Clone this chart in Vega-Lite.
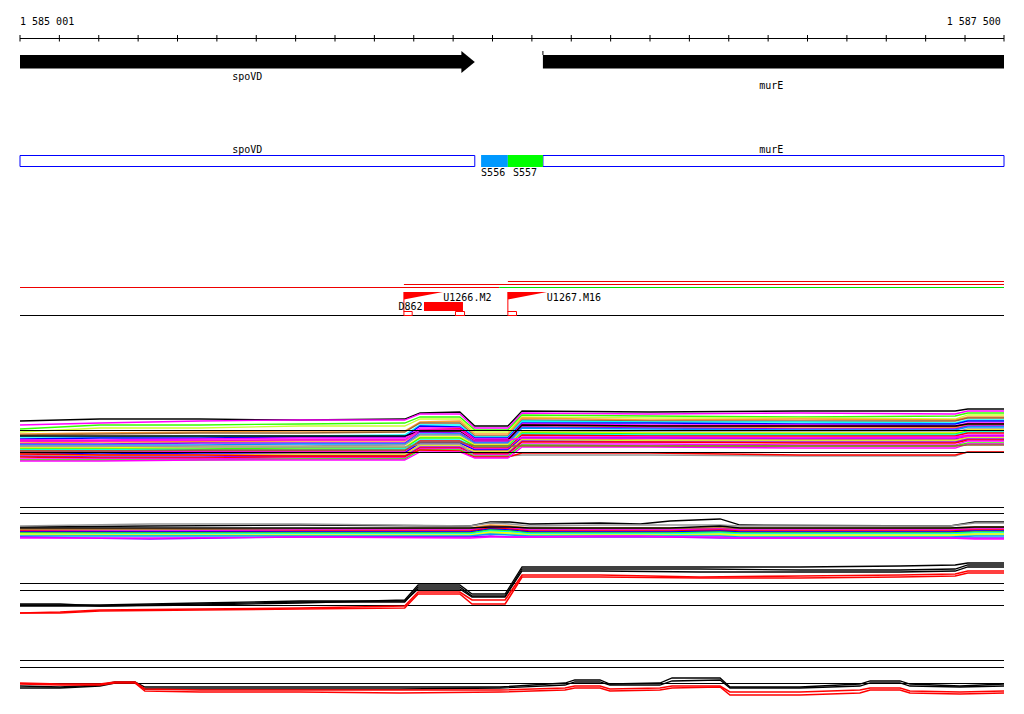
{
"$schema": "https://vega.github.io/schema/vega-lite/v6.json",
"width": 984, "height": 714,
"autosize": {"type": "none"},
"padding": {"left": 20, "right": 20, "top": 0, "bottom": 0},
"background": "white",
"config": {"view": {"stroke": null}, "axis": {"disable": true}, "text": {"font": "DejaVu Sans Mono", "fontSize": 10, "color": "black"}},
"encoding": {
  "x": {"field": "x", "type": "quantitative", "scale": {"domain": [1585001, 1587500], "nice": false, "zero": false}},
  "y": {"field": "y", "type": "quantitative", "scale": {"domain": [0, 714], "reverse": true, "nice": false, "zero": false}}
},
"layer": [
  {"data": {"values": [
    {"s":"a01","x":[1585001,1585204,1585458,1585712,1585978,1586017,1586118,1586156,1586240,1586276,1586601,1586982,1587376,1587408,1587500],"y":[421,419,419,420,419,413,412,426,426,411,412,411,411,409,409]},
    {"s":"a02","x":[1585001,1585204,1585458,1585712,1585978,1586017,1586118,1586156,1586240,1586276,1586601,1586982,1587376,1587408,1587500],"y":[425,423,421,420,420,414,414,428,428,413,414,413,414,411,411]},
    {"s":"a03","x":[1585001,1585204,1585458,1585712,1585978,1586017,1586118,1586156,1586240,1586276,1586601,1586982,1587376,1587408,1587500],"y":[429,425,425,424,423,417,417,430,430,415,416,417,416,413,413]},
    {"s":"a04","x":[1585001,1585204,1585458,1585712,1585978,1586017,1586118,1586156,1586240,1586276,1586601,1586982,1587376,1587408,1587500],"y":[432,428,428,426,426,419,419,432,432,417,418,418,419,415,415]},
    {"s":"a05","x":[1585001,1585204,1585458,1585712,1585978,1586017,1586118,1586156,1586240,1586276,1586601,1586982,1587376,1587408,1587500],"y":[434,433,432,431,431,422,421,434,434,418,420,419,420,417,417]},
    {"s":"a06","x":[1585001,1585204,1585458,1585712,1585978,1586017,1586118,1586156,1586240,1586276,1586601,1586982,1587376,1587408,1587500],"y":[435,434,433,433,432,423,423,436,436,420,421,421,421,418,418]},
    {"s":"a07","x":[1585001,1585204,1585458,1585712,1585978,1586017,1586118,1586156,1586240,1586276,1586601,1586982,1587376,1587408,1587500],"y":[437,437,436,436,435,425,425,437,437,421,422,422,423,420,420]},
    {"s":"a08","x":[1585001,1585204,1585458,1585712,1585978,1586017,1586118,1586156,1586240,1586276,1586601,1586982,1587376,1587408,1587500],"y":[439,438,438,437,437,426,427,438,438,423,423,424,424,421,421]},
    {"s":"a09","x":[1585001,1585204,1585458,1585712,1585978,1586017,1586118,1586156,1586240,1586276,1586601,1586982,1587376,1587408,1587500],"y":[440,440,439,438,438,428,428,439,439,424,425,425,426,423,423]},
    {"s":"a10","x":[1585001,1585204,1585458,1585712,1585978,1586017,1586118,1586156,1586240,1586276,1586601,1586982,1587376,1587408,1587500],"y":[441,441,441,440,440,430,429,440,440,425,426,426,427,424,424]},
    {"s":"a11","x":[1585001,1585204,1585458,1585712,1585978,1586017,1586118,1586156,1586240,1586276,1586601,1586982,1587376,1587408,1587500],"y":[443,442,442,441,441,431,431,441,441,426,427,428,428,425,425]},
    {"s":"a12","x":[1585001,1585204,1585458,1585712,1585978,1586017,1586118,1586156,1586240,1586276,1586601,1586982,1587376,1587408,1587500],"y":[444,444,443,443,443,432,433,442,442,427,428,429,429,426,426]},
    {"s":"a13","x":[1585001,1585204,1585458,1585712,1585978,1586017,1586118,1586156,1586240,1586276,1586601,1586982,1587376,1587408,1587500],"y":[445,445,445,444,444,434,434,443,443,428,429,430,430,427,427]},
    {"s":"a14","x":[1585001,1585204,1585458,1585712,1585978,1586017,1586118,1586156,1586240,1586276,1586601,1586982,1587376,1587408,1587500],"y":[447,447,446,446,445,435,435,444,444,431,432,432,432,429,429]},
    {"s":"a15","x":[1585001,1585204,1585458,1585712,1585978,1586017,1586118,1586156,1586240,1586276,1586601,1586982,1587376,1587408,1587500],"y":[448,448,447,447,447,437,437,445,445,432,433,433,433,430,430]},
    {"s":"a16","x":[1585001,1585204,1585458,1585712,1585978,1586017,1586118,1586156,1586240,1586276,1586601,1586982,1587376,1587408,1587500],"y":[449,449,449,448,448,438,438,446,446,433,434,434,434,431,431]},
    {"s":"a17","x":[1585001,1585204,1585458,1585712,1585978,1586017,1586118,1586156,1586240,1586276,1586601,1586982,1587376,1587408,1587500],"y":[450,450,450,450,449,440,440,447,447,434,435,435,435,432,432]},
    {"s":"a18","x":[1585001,1585204,1585458,1585712,1585978,1586017,1586118,1586156,1586240,1586276,1586601,1586982,1587376,1587408,1587500],"y":[451,451,451,451,451,441,441,448,448,435,436,436,436,433,433]},
    {"s":"a19","x":[1585001,1585204,1585458,1585712,1585978,1586017,1586118,1586156,1586240,1586276,1586601,1586982,1587376,1587408,1587500],"y":[452,452,452,452,452,442,442,449,449,437,437,438,437,435,435]},
    {"s":"a20","x":[1585001,1585204,1585458,1585712,1585978,1586017,1586118,1586156,1586240,1586276,1586601,1586982,1587376,1587408,1587500],"y":[453,454,453,453,453,443,443,450,450,438,438,439,439,436,436]},
    {"s":"a21","x":[1585001,1585204,1585458,1585712,1585978,1586017,1586118,1586156,1586240,1586276,1586601,1586982,1587376,1587408,1587500],"y":[454,455,455,454,454,445,445,451,451,439,440,440,440,437,437]},
    {"s":"a22","x":[1585001,1585204,1585458,1585712,1585978,1586017,1586118,1586156,1586240,1586276,1586601,1586982,1587376,1587408,1587500],"y":[455,456,456,455,455,446,446,452,452,440,441,441,441,438,438]},
    {"s":"a23","x":[1585001,1585204,1585458,1585712,1585978,1586017,1586118,1586156,1586240,1586276,1586601,1586982,1587376,1587408,1587500],"y":[456,457,457,456,456,447,447,453,453,441,442,442,442,439,439]},
    {"s":"a24","x":[1585001,1585204,1585458,1585712,1585978,1586017,1586118,1586156,1586240,1586276,1586601,1586982,1587376,1587408,1587500],"y":[457,458,458,457,457,448,448,454,454,442,442,443,443,440,440]},
    {"s":"a25","x":[1585001,1585204,1585458,1585712,1585978,1586017,1586118,1586156,1586240,1586276,1586601,1586982,1587376,1587408,1587500],"y":[459,459,459,458,458,449,449,455,455,444,444,445,445,441,441]},
    {"s":"a26","x":[1585001,1585204,1585458,1585712,1585978,1586017,1586118,1586156,1586240,1586276,1586601,1586982,1587376,1587408,1587500],"y":[460,460,460,459,459,450,450,456,456,445,446,446,446,443,443]},
    {"s":"a27","x":[1585001,1585204,1585458,1585712,1585978,1586017,1586118,1586156,1586240,1586276,1586601,1586982,1587376,1587408,1587500],"y":[446,446,447,447,447,444,444,456,456,455,455,456,456,452,452]},
    {"s":"a28","x":[1585001,1585204,1585458,1585712,1585978,1586017,1586118,1586156,1586240,1586276,1586601,1586982,1587376,1587408,1587500],"y":[454,455,455,456,456,450,451,457,457,453,453,455,455,452,452]},
    {"s":"a29","x":[1585001,1585204,1585458,1585712,1585978,1586017,1586118,1586156,1586240,1586276,1586601,1586982,1587376,1587408,1587500],"y":[436,436,436,436,436,431,431,440,440,425,426,426,426,424,424]},
    {"s":"a30","x":[1585001,1585204,1585458,1585712,1585978,1586017,1586118,1586156,1586240,1586276,1586601,1586982,1587376,1587408,1587500],"y":[461,461,460,460,460,452,452,458,458,447,447,448,448,444,444]},
    {"s":"a31","x":[1585001,1585204,1585458,1585712,1585978,1586017,1586118,1586156,1586240,1586276,1586601,1586982,1587376,1587408,1587500],"y":[451,451,450,450,450,442,442,446,446,446,446,446,446,445,445]},
    {"s":"a32","x":[1585001,1585204,1585458,1585712,1585978,1586017,1586118,1586156,1586240,1586276,1586601,1586982,1587376,1587408,1587500],"y":[441,441,440,440,440,430,430,440,440,438,438,438,438,436,436]},
    {"s":"b01","x":[1585001,1585331,1585712,1586144,1586195,1586245,1586296,1586474,1586576,1586652,1586779,1586830,1587363,1587426,1587500],"y":[527,526,525,526,522,522,524,523,524,521,519,525,526,522,522]},
    {"s":"b02","x":[1585001,1585331,1585712,1586144,1586195,1586245,1586296,1586474,1586576,1586652,1586779,1586830,1587363,1587426,1587500],"y":[526,524,524,526,523,524,526,525,525,525,525,526,526,523,523]},
    {"s":"b03","x":[1585001,1585331,1585712,1586144,1586195,1586245,1586296,1586474,1586576,1586652,1586779,1586830,1587363,1587426,1587500],"y":[529,529,529,528,525,526,528,528,528,528,528,528,528,527,527]},
    {"s":"b04","x":[1585001,1585331,1585712,1586144,1586195,1586245,1586296,1586474,1586576,1586652,1586779,1586830,1587363,1587426,1587500],"y":[530,530,529,529,526,527,529,529,529,529,528,529,529,528,528]},
    {"s":"b05","x":[1585001,1585331,1585712,1586144,1586195,1586245,1586296,1586474,1586576,1586652,1586779,1586830,1587363,1587426,1587500],"y":[531,531,530,530,527,528,530,530,530,530,529,530,530,529,529]},
    {"s":"b06","x":[1585001,1585331,1585712,1586144,1586195,1586245,1586296,1586474,1586576,1586652,1586779,1586830,1587363,1587426,1587500],"y":[531,532,531,531,528,529,531,531,531,531,530,531,531,530,530]},
    {"s":"b07","x":[1585001,1585331,1585712,1586144,1586195,1586245,1586296,1586474,1586576,1586652,1586779,1586830,1587363,1587426,1587500],"y":[532,532,532,532,529,530,532,532,532,532,531,532,532,531,531]},
    {"s":"b08","x":[1585001,1585331,1585712,1586144,1586195,1586245,1586296,1586474,1586576,1586652,1586779,1586830,1587363,1587426,1587500],"y":[533,533,533,533,530,531,533,533,533,533,532,533,533,532,532]},
    {"s":"b09","x":[1585001,1585331,1585712,1586144,1586195,1586245,1586296,1586474,1586576,1586652,1586779,1586830,1587363,1587426,1587500],"y":[534,534,534,534,531,532,534,534,534,534,533,534,534,533,533]},
    {"s":"b10","x":[1585001,1585331,1585712,1586144,1586195,1586245,1586296,1586474,1586576,1586652,1586779,1586830,1587363,1587426,1587500],"y":[534,535,535,535,532,533,535,535,535,535,534,535,535,534,534]},
    {"s":"b11","x":[1585001,1585331,1585712,1586144,1586195,1586245,1586296,1586474,1586576,1586652,1586779,1586830,1587363,1587426,1587500],"y":[535,535,536,536,533,534,535,535,535,535,535,536,536,535,535]},
    {"s":"b12","x":[1585001,1585331,1585712,1586144,1586195,1586245,1586296,1586474,1586576,1586652,1586779,1586830,1587363,1587426,1587500],"y":[536,536,536,536,534,535,536,536,536,536,536,537,537,536,536]},
    {"s":"b13","x":[1585001,1585331,1585712,1586144,1586195,1586245,1586296,1586474,1586576,1586652,1586779,1586830,1587363,1587426,1587500],"y":[537,539,537,537,536,537,537,537,537,537,538,538,538,538,538]},
    {"s":"b14","x":[1585001,1585331,1585712,1586144,1586195,1586245,1586296,1586474,1586576,1586652,1586779,1586830,1587363,1587426,1587500],"y":[538,538,537,538,537,537,537,536,536,537,537,538,538,539,539]},
    {"s":"b15","x":[1585001,1585331,1585712,1586144,1586195,1586245,1586296,1586474,1586576,1586652,1586779,1586830,1587363,1587426,1587500],"y":[528,528,528,528,527,527,528,528,528,528,526,528,528,527,527]}
  ]},
   "transform": [{"flatten": ["x", "y"]}],
   "mark": {"type": "line", "strokeWidth": 1.3},
   "encoding": {"stroke": {"field": "s", "type": "nominal", "legend": null,
     "scale": {"domain": ["a01","a02","a03","a04","a05","a06","a07","a08","a09","a10","a11","a12","a13","a14","a15","a16","a17","a18","a19","a20","a21","a22","a23","a24","a25","a26","a27","a28","a29","a30","a31","a32","b01","b02","b03","b04","b05","b06","b07","b08","b09","b10","b11","b12","b13","b14","b15"],
       "range": ["#000000","#ff00ff","#33ff00","#ccff33","#ff9933","#996633","#00ffff","#0000ff","#ff00ff","#ff0000","#ff9933","#9900ff","#0099ff","#999999","#ffff00","#33ff00","#00ffff","#ff0000","#ff00ff","#0000ff","#ff9933","#ccff33","#9900ff","#ff0000","#ff00ff","#33ff00","#999999","#ff0000","#000000","#ff00ff","#996633","#ff00ff","#000000","#999999","#ff9933","#996633","#ff00ff","#ff0000","#0000ff","#33ff00","#00ffff","#ffff00","#ccff33","#0099ff","#9900ff","#ff00ff","#000000"]}}}
  },
  {"data": {"values": [
    {"x":1585001,"x2":1587500,"y":38.5},
    {"x":1585001,"x2":1587500,"y":315.5},
    {"x":1585001,"x2":1587500,"y":430.5},
    {"x":1585001,"x2":1587500,"y":452.5},
    {"x":1585001,"x2":1587500,"y":507.5},
    {"x":1585001,"x2":1587500,"y":513.5},
    {"x":1585001,"x2":1587500,"y":583.5},
    {"x":1585001,"x2":1587500,"y":590.5},
    {"x":1585001,"x2":1587500,"y":605.5},
    {"x":1585001,"x2":1587500,"y":660.5},
    {"x":1585001,"x2":1587500,"y":667.5},
    {"x":1585001,"x2":1587500,"y":683.5}
  ]},
   "mark": {"type": "rule", "color": "black", "strokeWidth": 1},
   "encoding": {"x2": {"field": "x2"}}
  },
  {"data": {"values": [
    {"x":1585001,"y":35,"y2":41.5},{"x":1585101,"y":35,"y2":41.5},{"x":1585201,"y":35,"y2":41.5},{"x":1585301,"y":35,"y2":41.5},{"x":1585401,"y":35,"y2":41.5},
    {"x":1585501,"y":35,"y2":41.5},{"x":1585601,"y":35,"y2":41.5},{"x":1585701,"y":35,"y2":41.5},{"x":1585801,"y":35,"y2":41.5},{"x":1585901,"y":35,"y2":41.5},
    {"x":1586001,"y":35,"y2":41.5},{"x":1586101,"y":35,"y2":41.5},{"x":1586201,"y":35,"y2":41.5},{"x":1586301,"y":35,"y2":41.5},{"x":1586401,"y":35,"y2":41.5},
    {"x":1586501,"y":35,"y2":41.5},{"x":1586601,"y":35,"y2":41.5},{"x":1586701,"y":35,"y2":41.5},{"x":1586801,"y":35,"y2":41.5},{"x":1586901,"y":35,"y2":41.5},
    {"x":1587001,"y":35,"y2":41.5},{"x":1587101,"y":35,"y2":41.5},{"x":1587201,"y":35,"y2":41.5},{"x":1587301,"y":35,"y2":41.5},{"x":1587401,"y":35,"y2":41.5},
    {"x":1587500,"y":35,"y2":41.5}
  ]},
   "mark": {"type": "rule", "color": "black", "strokeWidth": 1},
   "encoding": {"y2": {"field": "y2"}}
  },
  {"data": {"values": [
    {"x":1585001,"x2":1586124,"y":55,"y2":68.5},
    {"x":1586329,"x2":1587500,"y":55,"y2":68.5}
  ]},
   "mark": {"type": "rect", "color": "black"},
   "encoding": {"x2": {"field": "x2"}, "y2": {"field": "y2"}}
  },
  {"data": {"values": [
    {"x":1586329,"y":51,"y2":55}
  ]},
   "mark": {"type": "rule", "color": "black", "strokeWidth": 1},
   "encoding": {"y2": {"field": "y2"}}
  },
  {"data": {"values": [
    {"x":1586122,"y":51,"y2":73},
    {"x":1586156,"y":62,"y2":62}
  ]},
   "mark": {"type": "area", "color": "black"},
   "encoding": {"y2": {"field": "y2"}}
  },
  {"data": {"values": [
    {"x":1585001,"x2":1586156,"y":155.5,"y2":166.5},
    {"x":1586329,"x2":1587500,"y":155.5,"y2":166.5}
  ]},
   "mark": {"type": "rect", "fill": "white", "stroke": "#0000ff", "strokeWidth": 1},
   "encoding": {"x2": {"field": "x2"}, "y2": {"field": "y2"}}
  },
  {"data": {"values": [
    {"f":"S556","x":1586172,"x2":1586240,"y":155,"y2":167},
    {"f":"S557","x":1586240,"x2":1586329,"y":155,"y2":167}
  ]},
   "mark": {"type": "rect"},
   "encoding": {"x2": {"field": "x2"}, "y2": {"field": "y2"},
     "fill": {"field": "f", "type": "nominal", "legend": null, "scale": {"domain": ["S556","S557"], "range": ["#0099ff","#00ff00"]}}}
  },
  {"data": {"values": [
    {"x":1585001,"x2":1586218,"y":287.5},
    {"x":1585976,"x2":1587500,"y":284.5},
    {"x":1586240,"x2":1587500,"y":281.5}
  ]},
   "mark": {"type": "rule", "color": "#ee0000", "strokeWidth": 1},
   "encoding": {"x2": {"field": "x2"}}
  },
  {"data": {"values": [
    {"x":1586218,"x2":1587500,"y":287.5}
  ]},
   "mark": {"type": "rule", "color": "#00dd00", "strokeWidth": 1},
   "encoding": {"x2": {"field": "x2"}}
  },
  {"data": {"values": [
    {"x":1585976,"y":292,"y2":312},
    {"x":1586240,"y":292,"y2":312}
  ]},
   "mark": {"type": "rule", "color": "red", "strokeWidth": 1},
   "encoding": {"y2": {"field": "y2"}}
  },
  {"data": {"values": [
    {"f":"a","x":1585976,"y":292,"y2":299.5},
    {"f":"a","x":1586075,"y":292,"y2":292},
    {"f":"b","x":1586240,"y":292,"y2":299.5},
    {"f":"b","x":1586339,"y":292,"y2":292}
  ]},
   "mark": {"type": "area", "color": "red"},
   "encoding": {"y2": {"field": "y2"}, "detail": {"field": "f"}}
  },
  {"data": {"values": [
    {"x":1586027,"x2":1586126,"y":302,"y2":311}
  ]},
   "mark": {"type": "rect", "color": "red"},
   "encoding": {"x2": {"field": "x2"}, "y2": {"field": "y2"}}
  },
  {"data": {"values": [
    {"x":1585976,"x2":1585997,"y":311.5,"y2":315.5},
    {"x":1586107,"x2":1586130,"y":311.5,"y2":315.5},
    {"x":1586240,"x2":1586262,"y":311.5,"y2":315.5}
  ]},
   "mark": {"type": "rect", "fill": "white", "stroke": "red", "strokeWidth": 1},
   "encoding": {"x2": {"field": "x2"}, "y2": {"field": "y2"}}
  },
  {"data": {"values": [
    {"s":"k1","x":[1585001,1585103,1585204,1585458,1585712,1585978,1586012,1586118,1586149,1586233,1586276,1586474,1586728,1586982,1587236,1587376,1587408,1587500],"y":[604,604,606,605,603,600,585,585,594,594,567,567,567,567,566,565,563,563]},
    {"s":"k2","x":[1585001,1585103,1585204,1585458,1585712,1585978,1586012,1586118,1586149,1586233,1586276,1586474,1586728,1586982,1587236,1587376,1587408,1587500],"y":[606,606,606,604,602,602,587,587,596,596,569,569,569,570,570,569,565,565]},
    {"s":"k3","x":[1585001,1585103,1585204,1585458,1585712,1585978,1586012,1586118,1586149,1586233,1586276,1586474,1586728,1586982,1587236,1587376,1587408,1587500],"y":[605,605,605,603,601,601,589,589,597,597,571,571,572,572,572,571,567,567]},
    {"s":"m1","x":[1585001,1585103,1585204,1585242,1585293,1585318,1585458,1585712,1585966,1586220,1586385,1586410,1586474,1586499,1586626,1586657,1586779,1586804,1586982,1587134,1587160,1587236,1587261,1587388,1587500],"y":[686,687,685,682,682,687,687,687,687,687,683,680,680,684,683,678,678,687,687,684,681,681,684,686,684]},
    {"s":"m2","x":[1585001,1585103,1585204,1585242,1585293,1585318,1585458,1585712,1585966,1586220,1586385,1586410,1586474,1586499,1586626,1586657,1586779,1586804,1586982,1587134,1587160,1587236,1587261,1587388,1587500],"y":[688,688,686,683,683,689,689,689,689,688,685,682,682,685,685,681,680,688,688,686,683,683,686,687,686]}
  ]},
   "transform": [{"flatten": ["x", "y"]}],
   "mark": {"type": "line", "color": "black", "strokeWidth": 1.3},
   "encoding": {"detail": {"field": "s"}}
  },
  {"data": {"values": [
    {"s":"r1","x":[1585001,1585103,1585204,1585458,1585712,1585978,1586012,1586118,1586149,1586233,1586276,1586474,1586728,1586982,1587236,1587376,1587408,1587500],"y":[613,612,610,609,608,606,592,592,600,600,575,575,577,576,575,574,571,571]},
    {"s":"r2","x":[1585001,1585103,1585204,1585458,1585712,1585978,1586012,1586118,1586149,1586233,1586276,1586474,1586728,1586982,1587236,1587376,1587408,1587500],"y":[613,613,611,610,609,608,594,594,604,604,577,577,578,578,577,576,573,573]},
    {"s":"n1","x":[1585001,1585103,1585204,1585242,1585293,1585318,1585458,1585712,1585966,1586220,1586385,1586410,1586474,1586499,1586626,1586657,1586779,1586804,1586982,1587134,1587160,1587236,1587261,1587388,1587500],"y":[683,684,684,682,682,689,690,690,690,690,688,686,686,689,688,686,686,692,692,690,688,688,691,692,691]},
    {"s":"n2","x":[1585001,1585103,1585204,1585242,1585293,1585318,1585458,1585712,1585966,1586220,1586385,1586410,1586474,1586499,1586626,1586657,1586779,1586804,1586982,1587134,1587160,1587236,1587261,1587388,1587500],"y":[684,685,685,683,683,691,692,692,693,692,690,688,688,691,690,688,687,695,695,693,690,690,693,694,693]}
  ]},
   "transform": [{"flatten": ["x", "y"]}],
   "mark": {"type": "line", "color": "red", "strokeWidth": 1.6},
   "encoding": {"detail": {"field": "s"}}
  },
  {"data": {"values": [
    {"x":1585001,"y":24.5,"t":"1 585 001"},
    {"x":1586172,"y":176,"t":"S556"},
    {"x":1586253,"y":176,"t":"S557"},
    {"x":1585962,"y":309.5,"t":"D862"},
    {"x":1586076,"y":301,"t":"U1266.M2"},
    {"x":1586339,"y":301,"t":"U1267.M16"}
  ]},
   "mark": {"type": "text", "align": "left", "baseline": "alphabetic"},
   "encoding": {"text": {"field": "t"}}
  },
  {"data": {"values": [
    {"x":1585578,"y":79.5,"t":"spoVD"},
    {"x":1586909,"y":89,"t":"murE"},
    {"x":1585578,"y":152.5,"t":"spoVD"},
    {"x":1586909,"y":152.5,"t":"murE"}
  ]},
   "mark": {"type": "text", "align": "center", "baseline": "alphabetic"},
   "encoding": {"text": {"field": "t"}}
  },
  {"data": {"values": [
    {"x":1587492,"y":24.5,"t":"1 587 500"}
  ]},
   "mark": {"type": "text", "align": "right", "baseline": "alphabetic"},
   "encoding": {"text": {"field": "t"}}
  }
]
}
